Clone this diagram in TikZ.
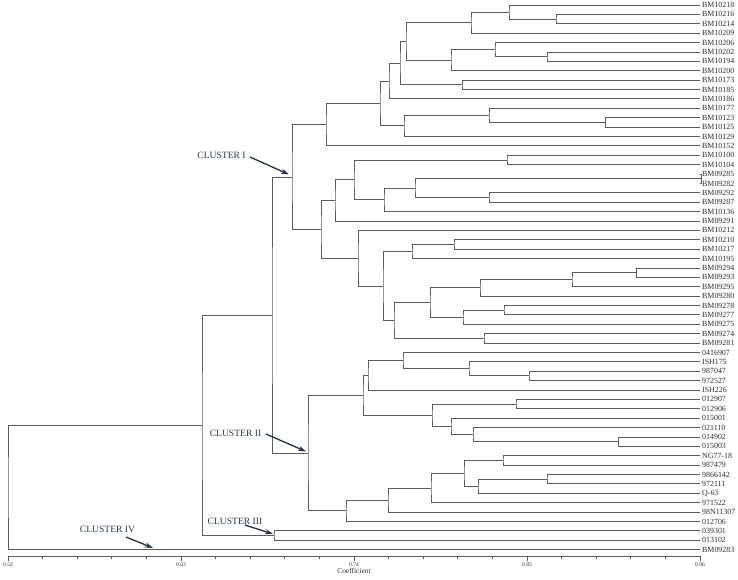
\documentclass[tikz,border=0pt]{standalone}
\usepackage{fontspec}
\setmainfont{Liberation Serif}
\usetikzlibrary{calc,arrows.meta}
\definecolor{treegray}{HTML}{5C5C5C}
\definecolor{labgray}{HTML}{2E2E2E}
\definecolor{clnavy}{HTML}{2E3B4E}
\definecolor{arrnavy}{HTML}{1F3047}
\newcommand\dgjoin[4]{%
  \path ($(#3)!0.5!(#4)$) coordinate (#1m);
  \path (#2,0) coordinate (#1x);
  \coordinate (#1) at (#1x |- #1m);
  \draw[branch] (#3) -| (#1) |- (#4);
}
\begin{document}
\begin{tikzpicture}[x=1pt,y=-1pt,
  branch/.style={draw=treegray,line width=0.85pt},
  leaflab/.style={anchor=west,inner sep=0pt,text=labgray,font=\fontsize{7.9}{8}\selectfont},
  axlab/.style={anchor=north,inner sep=0pt,text=labgray,font=\fontsize{5.6}{6}\selectfont},
  cllab/.style={inner sep=0pt,text=clnavy,font=\fontsize{9.6}{10}\selectfont},
  clarrow/.style={draw=arrnavy,line width=1.3pt,-{Stealth[length=8pt,width=5pt]}},
  tick/.style={draw=treegray,line width=0.7pt}]
\useasboundingbox (0,0) rectangle (738,579);
% leaves
\foreach \lab [count=\i] in {BM10218,BM10216,BM10214,BM10209,BM10206,BM10202,BM10194,BM10200,BM10173,BM10185,BM10186,BM10177,BM10123,BM10125,BM10129,BM10152,BM10100,BM10104,BM09285,BM09282,BM09292,BM09287,BM10136,BM09291,BM10212,BM10210,BM10217,BM10195,BM09294,BM09293,BM09295,BM09280,BM09278,BM09277,BM09275,BM09274,BM09281,0416907,ISH175,987047,972527,ISH226,012907,012906,015001,021110,014902,015003,NG77-18,987479,9866142,972111,Q-63,971522,98N11307,012706,039301,013102,BM09283}{
  \coordinate (l\i) at (700,{5+(\i-1)*9.39});
  \node[leaflab] (L\i) at (702,{5+(\i-1)*9.39}) {\lab};
}
% cluster I, upper part
\dgjoin{a1}{556}{l2}{l3}
\dgjoin{a2}{509}{l1}{a1}
\dgjoin{a3}{471}{a2}{l4}
\dgjoin{a4}{547}{l6}{l7}
\dgjoin{a5}{495}{l5}{a4}
\dgjoin{a6}{451}{a5}{l8}
\dgjoin{a7}{406}{a3}{a6}
\dgjoin{a8}{462}{l9}{l10}
\dgjoin{a9}{400}{a7}{a8}
\dgjoin{a10}{389}{a9}{l11}
\dgjoin{a11}{605}{l13}{l14}
\dgjoin{a12}{489}{l12}{a11}
\dgjoin{a13}{404}{a12}{l15}
\dgjoin{a14}{380}{a10}{a13}
\dgjoin{a15}{326}{a14}{l16}
% cluster I, lower part
\dgjoin{b1}{507}{l17}{l18}
\dgjoin{b2}{701}{l19}{l20}
\dgjoin{b3}{489}{l21}{l22}
\dgjoin{b4}{415}{b2}{b3}
\dgjoin{b5}{384}{b4}{l23}
\dgjoin{b6}{354}{b1}{b5}
\dgjoin{b7}{335}{b6}{l24}
\dgjoin{b8}{454}{l26}{l27}
\dgjoin{b9}{412}{b8}{l28}
\dgjoin{b10}{636}{l29}{l30}
\dgjoin{b11}{572}{b10}{l31}
\dgjoin{b12}{480}{b11}{l32}
\dgjoin{b13}{504}{l33}{l34}
\dgjoin{b14}{463}{b13}{l35}
\dgjoin{b15}{430}{b12}{b14}
\dgjoin{b16}{484}{l36}{l37}
\dgjoin{b17}{394}{b15}{b16}
\dgjoin{b18}{383}{b9}{b17}
\dgjoin{b19}{358}{l25}{b18}
\dgjoin{b20}{321}{b7}{b19}
\dgjoin{c1}{292}{a15}{b20}
% cluster II
\dgjoin{d1}{529}{l40}{l41}
\dgjoin{d2}{469}{l39}{d1}
\dgjoin{d3}{403}{l38}{d2}
\dgjoin{d4}{368}{d3}{l42}
\dgjoin{d5}{516}{l43}{l44}
\dgjoin{d6}{618}{l47}{l48}
\dgjoin{d7}{473}{l46}{d6}
\dgjoin{d8}{451}{l45}{d7}
\dgjoin{d9}{432}{d5}{d8}
\dgjoin{d10}{363}{d4}{d9}
\dgjoin{e1}{503}{l49}{l50}
\dgjoin{e2}{547}{l51}{l52}
\dgjoin{e3}{478}{e2}{l53}
\dgjoin{e4}{464}{e1}{e3}
\dgjoin{e5}{431}{e4}{l54}
\dgjoin{e6}{388}{e5}{l55}
\dgjoin{e7}{346}{e6}{l56}
\dgjoin{c2}{308}{d10}{e7}
\dgjoin{c12}{272}{c1}{c2}
% cluster III and root
\dgjoin{c3}{274}{l57}{l58}
\dgjoin{c123}{202}{c12}{c3}
\dgjoin{root}{8}{c123}{l59}
% axis
\coordinate (ax0) at (8,556);
\coordinate (ax1) at (700,556);
\draw[tick] (ax0) -- (ax1);
\foreach \k in {0,...,20}{
  \pgfmathtruncatemacro\ismaj{mod(\k,5)==0 ? 1 : 0}
  \ifnum\ismaj=1
    \draw[tick] ($(ax0)!\k/20!(ax1)$) -- ++(0,4.5);
  \else
    \draw[tick] ($(ax0)!\k/20!(ax1)$) -- ++(0,3);
  \fi
}
\foreach \v [count=\j from 0] in {0.52,0.63,0.74,0.85,0.96}{
  \node[axlab] (tl\j) at ($(ax0)!\j/4!(ax1)+(0,6.5)$) {\v};
}
\node[axlab,font=\fontsize{7.4}{8}\selectfont] (coef) at (354,568.5) {Coefficient};
% cluster labels and arrows
\node[cllab] (clI) at (221.5,155) {CLUSTER I};
\node[cllab] (clII) at (235.5,433) {CLUSTER II};
\node[cllab] (clIII) at (235,521) {CLUSTER III};
\node[cllab] (clIV) at (107.5,529) {CLUSTER IV};
\coordinate (s1) at (250,157); \coordinate (t1) at (289,174.5);
\coordinate (s2) at (266,434); \coordinate (t2) at (306,451.5);
\coordinate (s3) at (245,525); \coordinate (t3) at (273,534);
\coordinate (s4) at (126,537); \coordinate (t4) at (153,548);
\draw[clarrow] (s1) -- (t1);
\draw[clarrow] (s2) -- (t2);
\draw[clarrow] (s3) -- (t3);
\draw[clarrow] (s4) -- (t4);
\end{tikzpicture}
\end{document}
